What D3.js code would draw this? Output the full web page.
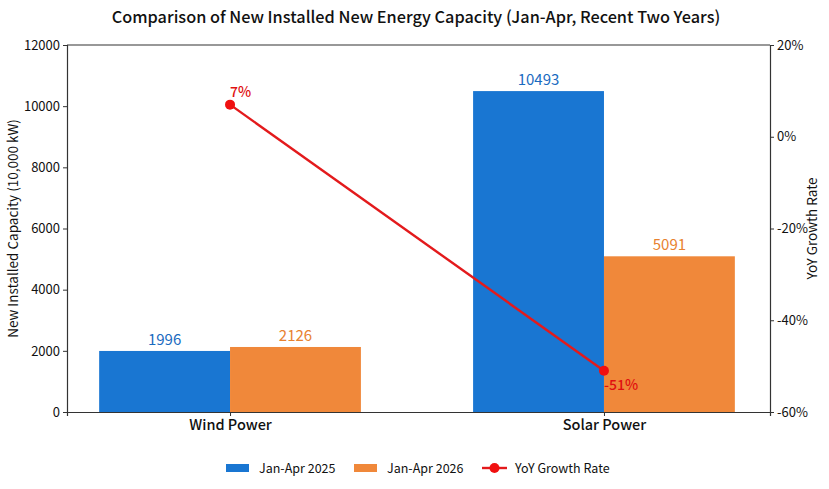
<!DOCTYPE html>
<html>
<head>
<meta charset="utf-8">
<script src="https://cdn.jsdelivr.net/npm/d3@7"></script>
<style>
  body { margin: 0; background: #fff; }
  text { font-family: "Noto Sans CJK SC", "Noto Sans", sans-serif; }
</style>
</head>
<body>
<svg width="829" height="489"></svg>
<script>
var categories = ['Wind Power', 'Solar Power'];
var series = ['Jan-Apr 2025', 'Jan-Apr 2026'];
var values2025 = [1996, 10493];
var values2026 = [2126, 5091];
var growth = [7, -51];
var leftTicks = [0, 2000, 4000, 6000, 8000, 10000, 12000];
var rightTicks = [-60, -40, -20, 0, 20];

var barColors = ['#1976d2', '#f0883a'];
var labelColors = ['#1a6bbf', '#e8822f'];
var red = '#e31a1c';

var plotLeft = 67, plotRight = 770, plotTop = 45, plotBottom = 412;
var svg = d3.select('svg');

var x = d3.scaleLinear().domain([-0.436, 1.444]).range([plotLeft, plotRight]);
var yL = d3.scaleLinear().domain([0, 12000]).range([plotBottom, plotTop]);
var yR = d3.scaleLinear().domain([-60, 20]).range([plotBottom, plotTop]);
var bw = 0.35;

// title
svg.append('text')
    .attr('x', 416).attr('y', 23)
    .attr('text-anchor', 'middle')
    .style('font-size', '16.3px')
    .style('font-weight', 500)
    .attr('fill', '#111')
    .text('Comparison of New Installed New Energy Capacity (Jan-Apr, Recent Two Years)');

// bars
var data = [values2025, values2026];
data.forEach(function (vals, s) {
    svg.append('g').selectAll('rect')
        .data(vals)
        .join('rect')
        .attr('x', function (d, i) { return x(i + (s === 0 ? -bw : 0)); })
        .attr('width', x(bw) - x(0))
        .attr('y', function (d) { return yL(d); })
        .attr('height', function (d) { return yL(0) - yL(d); })
        .attr('fill', barColors[s]);
    svg.append('g').selectAll('text')
        .data(vals)
        .join('text')
        .attr('x', function (d, i) { return x(i + (s === 0 ? -bw / 2 : bw / 2)); })
        .attr('y', function (d) { return yL(d) - 6; })
        .attr('text-anchor', 'middle')
        .style('font-size', '15px')
        .attr('fill', labelColors[s])
        .text(function (d) { return d; });
});

// axes frame
var axisColor = '#333';
var gl = svg.append('g').attr('transform', 'translate(' + plotLeft + ',0)')
    .call(d3.axisLeft(yL).tickValues(leftTicks).tickSize(4).tickPadding(3).tickFormat(d3.format('d')));
var gr = svg.append('g').attr('transform', 'translate(' + plotRight + ',0)')
    .call(d3.axisRight(yR).tickValues(rightTicks).tickSize(4).tickPadding(3).tickFormat(function (d) { return d + '%'; }));
var gb = svg.append('g').attr('transform', 'translate(0,' + plotBottom + ')')
    .call(d3.axisBottom(x).tickValues([0, 1]).tickSize(4).tickPadding(4).tickFormat(function (d) { return categories[d]; }));
svg.append('line').attr('x1', plotLeft).attr('x2', plotRight).attr('y1', plotTop).attr('y2', plotTop)
    .attr('stroke', axisColor).attr('stroke-width', 1.2);
[gl, gr, gb].forEach(function (g) {
    g.select('.domain').attr('stroke', axisColor).attr('stroke-width', 1.2);
    g.selectAll('.tick line').attr('stroke', axisColor);
    g.selectAll('.tick text').attr('fill', '#111').style('font-family', '"Noto Sans CJK SC", sans-serif');
});
gl.selectAll('.tick text').style('font-size', '13px');
gr.selectAll('.tick text').style('font-size', '13px');
gb.selectAll('.tick text').style('font-size', '14.5px').style('font-weight', 500);

// axis titles
svg.append('text')
    .attr('transform', 'translate(18,' + ((plotTop + plotBottom) / 2) + ') rotate(-90)')
    .attr('text-anchor', 'middle')
    .style('font-size', '13.5px').attr('fill', '#111')
    .text('New Installed Capacity (10,000 kW)');
svg.append('text')
    .attr('transform', 'translate(817,' + ((plotTop + plotBottom) / 2) + ') rotate(-90)')
    .attr('text-anchor', 'middle')
    .style('font-size', '13.5px').attr('fill', '#111')
    .text('YoY Growth Rate');

// growth line
var line = d3.line()
    .x(function (d, i) { return x(i); })
    .y(function (d) { return yR(d); });
svg.append('path')
    .datum(growth)
    .attr('d', line)
    .attr('fill', 'none')
    .attr('stroke', red)
    .attr('stroke-width', 2.4);
svg.append('g').selectAll('circle')
    .data(growth)
    .join('circle')
    .attr('cx', function (d, i) { return x(i); })
    .attr('cy', function (d) { return yR(d); })
    .attr('r', 5)
    .attr('fill', '#f01010');
svg.append('g').selectAll('text')
    .data(growth)
    .join('text')
    .attr('x', function (d, i) { return x(i) + 0; })
    .attr('y', function (d) { return yR(d) + (d > 0 ? -8 : 19); })
    .style('font-size', '14px')
    .style('font-weight', 500)
    .attr('fill', '#e01010')
    .text(function (d) { return d + '%'; });

// legend
var legend = svg.append('g').attr('transform', 'translate(0,468)');
var items = [
    { label: series[0], type: 'rect', color: barColors[0], x: 226 },
    { label: series[1], type: 'rect', color: barColors[1], x: 354 },
    { label: 'YoY Growth Rate', type: 'line', color: red, x: 482 }
];
items.forEach(function (it) {
    if (it.type === 'rect') {
        legend.append('rect').attr('x', it.x).attr('y', -4).attr('width', 23).attr('height', 8).attr('fill', it.color);
    } else {
        legend.append('line').attr('x1', it.x).attr('x2', it.x + 25).attr('y1', 0).attr('y2', 0)
            .attr('stroke', it.color).attr('stroke-width', 2.4);
        legend.append('circle').attr('cx', it.x + 12.5).attr('cy', 0).attr('r', 5).attr('fill', '#f01010');
    }
    legend.append('text')
        .attr('x', it.x + 33).attr('y', 4.5)
        .style('font-size', '12.5px').attr('fill', '#111')
        .text(it.label);
});
</script>
</body>
</html>
